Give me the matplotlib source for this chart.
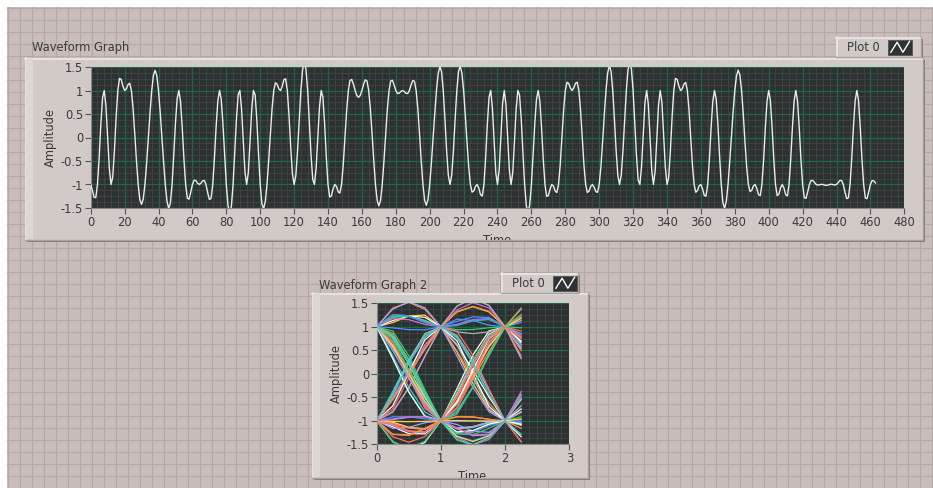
import numpy as np
import matplotlib
matplotlib.use("Agg")
import matplotlib.pyplot as plt
from matplotlib.patches import Rectangle
from matplotlib.ticker import MultipleLocator

# ---------------- data ----------------
# binary symbols (one every 4 samples)
symbols = [-1, -1, 1, -1, 1, 1, 1, -1, -1, 1, 1, -1, -1, 1,
           -1, -1, -1, -1, -1, 1, -1, -1, 1, -1, 1, -1, -1,
           1, 1, 1, -1, 1, 1, -1, 1, -1, -1, -1,
           1, 1, 1, 1, -1, -1, 1, 1, 1, 1, 1, -1, -1,
           1, 1, -1, 1, 1, -1, -1, -1, 1, -1, 1, -1, 1, -1, -1,
           1, -1, -1, -1, 1, 1, 1, -1, -1, -1, 1, 1, -1, 1, 1, -1,
           1, -1, 1, -1, 1, 1, 1, -1, -1, -1, 1, -1, -1, 1, 1,
           -1, -1, -1, 1, -1, -1, -1, 1,
           -1, -1, -1, -1, -1, -1, -1, -1, 1, -1, -1]
pre_symbols = [-1]
post_symbols = [-1, -1, -1]
samples_per_symbol = 4
n_samples = 464
rolloff = 0.4
eye_step = 8          # samples between eye traces
eye_len = 10          # samples per eye trace

top_xticks = list(range(0, 481, 20))
yticks = [-1.5, -1, -0.5, 0, 0.5, 1, 1.5]
ytick_labels = ["-1.5", "-1", "-0.5", "0", "0.5", "1", "1.5"]
eye_xticks = [0, 1, 2, 3]

eye_colors = ['#ffffff', '#ff6f6f', '#2fcf6f', '#4f8fff', '#ffd24f',
              '#d070d0', '#40c8c8', '#ff8f3f', '#a0a0ff', '#b0b0b0']

# ---------------- signal: raised-cosine shaping of the symbols ----------------
def rc(t, b):
    t = np.asarray(t, float)
    den = 1 - (2 * b * t) ** 2
    out = np.empty_like(t)
    sing = np.abs(den) < 1e-9
    out[~sing] = np.sinc(t[~sing]) * np.cos(np.pi * b * t[~sing]) / den[~sing]
    out[sing] = np.pi / 4 * np.sinc(1 / (2 * b))
    return out

all_syms = pre_symbols + symbols + post_symbols
offset = len(pre_symbols)
n = np.arange(n_samples)
wave = np.zeros(n_samples)
for k, s in enumerate(all_syms):
    pos = (k - offset) * samples_per_symbol
    wave += s * rc((n - pos) / samples_per_symbol, rolloff)

# ---------------- figure ----------------
W, H = 933, 488
fig = plt.figure(figsize=(W / 100, H / 100), dpi=100, facecolor='white')

def pax(x0, y0, x1, y1, **kw):
    return fig.add_axes([x0 / W, 1 - y1 / H, (x1 - x0) / W, (y1 - y0) / H], **kw)

bg = fig.add_axes([0, 0, 1, 1])
bg.set_xlim(0, W)
bg.set_ylim(H, 0)
bg.axis('off')

BGC = '#c8bdb9'
GRIDC = '#b3a8a5'
bg.add_patch(Rectangle((7, 7), W - 7, H - 7, facecolor=BGC, edgecolor='none', zorder=0))
g = 12.0
gx = np.arange(7.5, W, g)
gy = np.arange(7.5, H, g)
for x in gx:
    bg.plot([x, x], [7, H], color=GRIDC, lw=0.8, zorder=1)
for y in gy:
    bg.plot([7, W], [y, y], color=GRIDC, lw=0.8, zorder=1)

FACE = '#d1cac6'
LIGHT = '#ece8e5'
SHADOW = '#7e7673'
TXT = '#3a3a3a'

def frame(x0, y0, x1, y1, leftbar=True):
    bg.add_patch(Rectangle((x0 + 2, y0 + 2), x1 - x0, y1 - y0, facecolor=SHADOW,
                           edgecolor='none', zorder=2))
    bg.add_patch(Rectangle((x0, y0), x1 - x0, y1 - y0, facecolor=FACE,
                           edgecolor='none', zorder=3))
    bg.plot([x0, x1], [y0 + 0.5, y0 + 0.5], color=LIGHT, lw=1.2, zorder=4)
    bg.plot([x0 + 0.5, x0 + 0.5], [y0, y1], color=LIGHT, lw=1.2, zorder=4)
    bg.plot([x1 - 0.5, x1 - 0.5], [y0, y1], color='#a8a19e', lw=1, zorder=4)
    bg.plot([x0, x1], [y1 - 0.5, y1 - 0.5], color='#a8a19e', lw=1, zorder=4)
    if leftbar:
        bg.add_patch(Rectangle((x0 + 1, y0 + 1), 7, y1 - y0 - 2, facecolor='#dcd7d4',
                               edgecolor='none', zorder=4))

def legend_box(x0, y0, x1, y1, ix0, ix1):
    frame(x0, y0, x1, y1, leftbar=False)
    bg.text(x0 + 11, (y0 + y1) / 2 + 0.5, "Plot 0", fontsize=8.3, color=TXT,
            ha='left', va='center', zorder=6)
    iy0, iy1 = y0 + 2.5, y1 - 2.5
    bg.add_patch(Rectangle((ix0, iy0), ix1 - ix0, iy1 - iy0, facecolor='#2f3333',
                           edgecolor='#555555', lw=0.6, zorder=6))
    h = iy1 - iy0
    w = ix1 - ix0
    bg.plot([ix0 + 0.12 * w, ix0 + 0.38 * w, ix0 + 0.62 * w, ix0 + 0.9 * w],
            [iy1 - 0.15 * h, iy0 + 0.18 * h, iy1 - 0.15 * h, iy0 + 0.12 * h],
            color='white', lw=1.0, zorder=7)

# panel 1
bg.text(32, 48, "Waveform Graph", fontsize=8.3, color=TXT, ha='left', va='center', zorder=5)
frame(25, 58, 923, 240)
legend_box(836, 37, 921, 57, 888, 912)

# panel 2
bg.text(319, 285, "Waveform Graph 2", fontsize=8.3, color=TXT, ha='left', va='center', zorder=5)
frame(312, 293, 588, 478)
legend_box(501, 273, 578, 293, 553, 577)

# clipped "Time" labels
c1 = pax(25, 58, 923, 240)
c1.axis('off'); c1.set_xlim(25, 923); c1.set_ylim(240, 58)
c1.text(497, 234.5, "Time", fontsize=8.3, color=TXT, ha='center', va='top', clip_on=True)
c2 = pax(312, 293, 588, 478)
c2.axis('off'); c2.set_xlim(312, 588); c2.set_ylim(478, 293)
c2.text(472, 470.5, "Time", fontsize=8.3, color=TXT, ha='center', va='top', clip_on=True)

PLOTBG = '#2d3132'
MAJ = '#1d6748'
MIN = '#3e4746'

def style(ax, xmax, xmajor, xminor):
    ax.set_facecolor(PLOTBG)
    ax.set_xlim(0, xmax)
    ax.set_ylim(-1.5, 1.5)
    ax.set_yticks(yticks)
    ax.set_yticklabels(ytick_labels)
    ax.xaxis.set_major_locator(MultipleLocator(xmajor))
    ax.xaxis.set_minor_locator(MultipleLocator(xminor))
    ax.yaxis.set_minor_locator(MultipleLocator(0.125))
    ax.grid(which='minor', color=MIN, lw=0.6)
    ax.grid(which='major', color=MAJ, lw=0.9)
    ax.set_axisbelow(True)
    ax.tick_params(which='major', length=4, width=0.8, color='#555555', labelsize=8.3,
                   labelcolor=TXT, pad=1.5)
    ax.tick_params(which='minor', length=0)
    for s in ['top', 'right']:
        ax.spines[s].set_visible(False)
    for s in ['left', 'bottom']:
        ax.spines[s].set_color('#8a8a8a')
        ax.spines[s].set_linewidth(0.8)

ax1 = pax(90.7, 67, 904.3, 208)
style(ax1, 480, 20, 4)
ax1.set_xticks(top_xticks)
ax1.plot(n, wave, color='#ececec', lw=1.0, zorder=3)
ax1.set_ylabel("Amplitude", fontsize=8.3, color=TXT, labelpad=3)

ax2 = pax(376.7, 303.3, 569.3, 444.3)
style(ax2, 3, 1, 0.125)
ax2.set_xticks(eye_xticks)
ax2.set_ylabel("Amplitude", fontsize=8.3, color=TXT, labelpad=3)
for i, start in enumerate(range(0, n_samples, eye_step)):
    seg = wave[start:start + eye_len]
    t = np.arange(len(seg)) / samples_per_symbol
    ax2.plot(t, seg, color=eye_colors[i % len(eye_colors)], lw=0.9, zorder=3)

fig.savefig("out.png", dpi=100, facecolor='white')
